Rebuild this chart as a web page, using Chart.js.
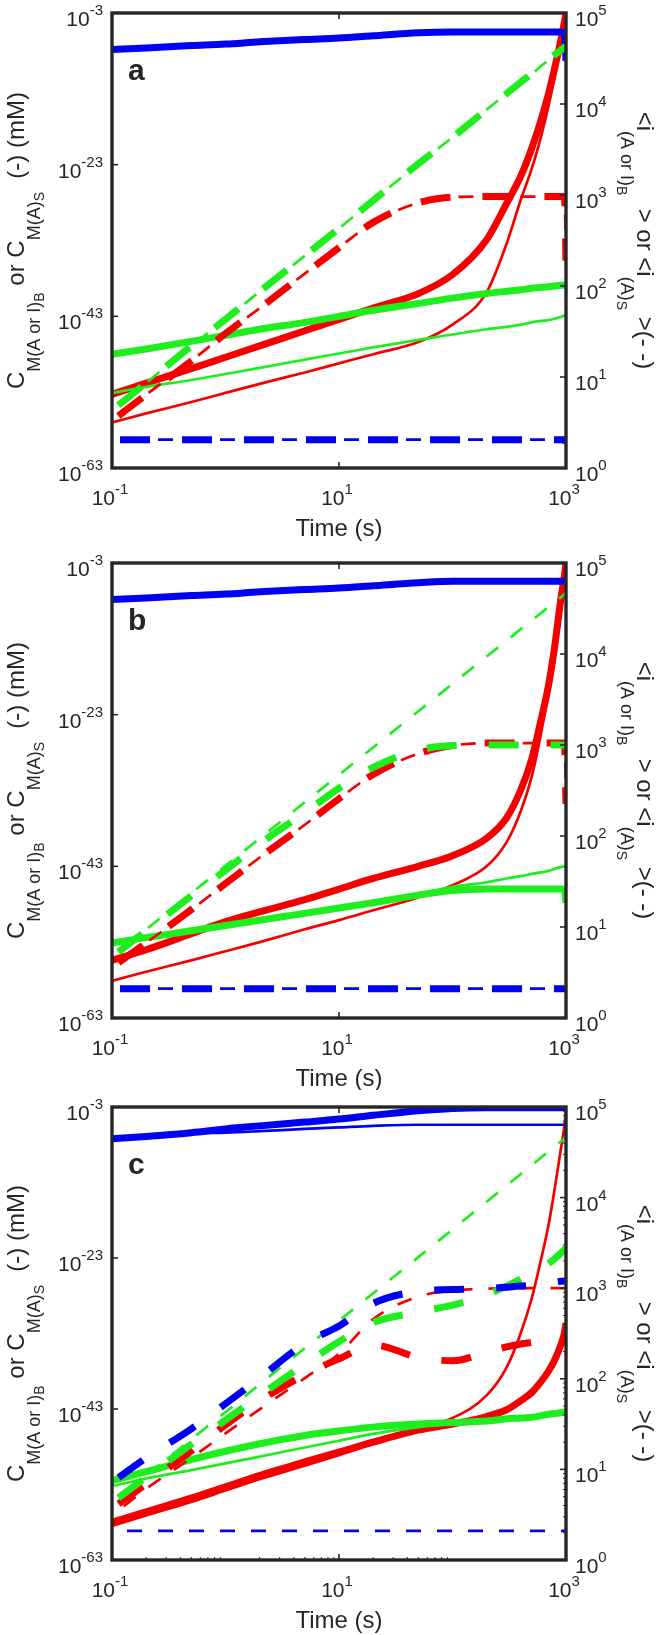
<!DOCTYPE html>
<html lang="es">
<head>
<meta charset="utf-8">
<title>Concentraciones y tamaño medio</title>
<script src="https://cdn.jsdelivr.net/npm/chart.js@4/dist/chart.umd.min.js"></script>
<style>
  html, body { margin: 0; padding: 0; background: #fff; }
  body { position: relative; width: 657px; height: 1635px; overflow: hidden; }
  .panel { position: absolute; left: 0; width: 657px; height: 545px; }
  canvas { display: block; width: 657px; height: 545px; }
</style>
</head>
<body>
<div class="panel" style="top:0px"><canvas id="grafica-a" width="657" height="545"></canvas></div>
<div class="panel" style="top:545px"><canvas id="grafica-b" width="657" height="545"></canvas></div>
<div class="panel" style="top:1090px"><canvas id="grafica-c" width="657" height="545"></canvas></div>
<script>
// ── Eje de tiempo compartido (s) ──────────────────────────────
const TIEMPO = [0.1, 0.2, 0.5, 1, 2, 5, 10, 20, 50, 100, 200, 300, 400, 500, 600, 700, 800, 900, 970, 1000];

// Marcas de los ejes
const TICKS_TIEMPO = [0.1, 10, 1000];
const TICKS_CONC   = [1e-63, 1e-43, 1e-23, 1e-3];
const TICKS_TAMANO = [1, 10, 100, 1000, 1e4, 1e5];

// ── Panel a ───────────────────────────────────────────────────
// Concentraciones: exponente base 10 (mM), eje izquierdo
const aAzulSolGrueso  = [-7.8, -7.6, -7.3, -7.1, -6.8, -6.5, -6.3, -6.0, -5.6, -5.5, -5.5, -5.5, -5.5, -5.5, -5.5, -5.5, -5.5, -5.5, -5.6, -9.3];
const aVerdeSolGrueso = [-48.0, -47.3, -46.3, -45.5, -44.7, -43.8, -43.0, -42.2, -41.3, -40.6, -40.0, -39.7, -39.5, -39.3, -39.2, -39.1, -39.0, -38.9, -38.9, -38.9];
const aVerdeSolFino   = [-53.1, -52.3, -51.4, -50.6, -49.8, -48.7, -47.9, -47.1, -46.1, -45.4, -44.7, -44.4, -44.1, -43.8, -43.6, -43.5, -43.3, -43.1, -42.9, -42.8];
const aRojoSolGrueso  = [-53.3, -51.8, -49.9, -48.4, -46.9, -44.9, -43.4, -41.9, -40.0, -37.5, -32.9, -28.1, -24.5, -20.8, -17.2, -13.7, -10.1, -6.6, -4.1, -3.0];
const aRojoSolFino    = [-57.0, -55.8, -54.3, -53.1, -51.9, -50.4, -49.2, -48.0, -46.4, -44.1, -39.8, -33.4, -27.6, -23.5, -19.4, -15.3, -11.2, -7.1, -4.2, -3.0];
// Tamaño medio <i>, eje derecho
const aAzulDisc  = [2.05, 2.05, 2.05, 2.05, 2.05, 2.05, 2.05, 2.05, 2.05, 2.05, 2.05, 2.05, 2.05, 2.05, 2.05, 2.05, 2.05, 2.05, 2.05, 1.9];
const aVerdeDisc = [4.3, 8.6, 22, 43, 87, 215, 430, 870, 2200, 4300, 8700, 13000, 17500, 21500, 26000, 30500, 35000, 39000, 42000, 44000];
const aRojoDisc  = [3.3, 6.4, 15, 30, 57, 137, 264, 500, 820, 945, 960, 960, 960, 960, 960, 960, 960, 960, 960, 190];

// ── Panel b ───────────────────────────────────────────────────
const bAzulSolGrueso  = [-7.8, -7.6, -7.3, -7.1, -6.8, -6.5, -6.3, -6.0, -5.6, -5.4, -5.4, -5.4, -5.4, -5.4, -5.4, -5.4, -5.4, -5.4, -5.4, -5.5];
const bVerdeSolGrueso = [-53.1, -52.4, -51.5, -50.8, -50.1, -49.2, -48.5, -47.8, -46.8, -46.2, -46.0, -46.0, -46.0, -46.0, -46.0, -46.0, -46.0, -46.0, -46.1, -47.8];
const bVerdeSolFino   = [-53.1, -52.4, -51.5, -50.8, -50.1, -49.2, -48.5, -47.8, -46.7, -45.7, -45.1, -44.6, -44.3, -44.0, -43.8, -43.6, -43.3, -43.1, -43.0, -42.9];
const bRojoSolGrueso  = [-55.4, -54.0, -51.9, -50.3, -49.0, -47.4, -46.0, -44.6, -43.0, -41.6, -39.3, -36.6, -32.9, -28.8, -23.8, -19.2, -13.7, -7.8, -4.6, -3.0];
const bRojoSolFino    = [-58.1, -56.9, -55.4, -54.2, -53.0, -51.3, -50.1, -48.8, -47.1, -45.5, -43.0, -39.8, -35.7, -31.1, -25.6, -20.1, -14.6, -8.7, -5.0, -3.0];
const bAzulDisc        = [2.1, 2.1, 2.1, 2.1, 2.1, 2.1, 2.1, 2.1, 2.1, 2.1, 2.1, 2.1, 2.1, 2.1, 2.1, 2.1, 2.1, 2.1, 2.1, 2.1];
const bRojoDisc        = [3.6, 6.7, 15.5, 30, 58, 133, 257, 475, 805, 985, 1050, 1050, 1050, 1050, 1050, 1050, 1050, 1050, 1050, 225];
const bVerdeDiscGrueso = [4.7, 9.1, 22, 42, 82, 181, 335, 567, 880, 985, 1000, 1000, 1000, 1000, 1000, 1000, 1000, 1000, 1000, 1000];
const bVerdeDiscFino   = [4.7, 9.4, 23.5, 47, 94, 235, 470, 940, 2350, 4700, 9400, 14000, 18800, 23500, 28000, 33000, 37500, 42000, 45500, 47000];

// ── Panel c ───────────────────────────────────────────────────
const cAzulSolGrueso  = [-7.2, -6.9, -6.4, -5.9, -5.5, -5.0, -4.6, -4.1, -3.5, -3.2, -3.1, -3.1, -3.1, -3.1, -3.1, -3.1, -3.1, -3.1, -3.1, -3.1];
const cAzulSolFino    = [-7.0, -6.8, -6.5, -6.4, -6.2, -5.9, -5.7, -5.5, -5.35, -5.35, -5.35, -5.35, -5.35, -5.35, -5.35, -5.35, -5.35, -5.35, -5.35, -5.35];
const cVerdeSolGrueso = [-52.5, -51.3, -49.7, -48.6, -47.6, -46.5, -45.9, -45.4, -45.0, -44.8, -44.6, -44.3, -44.2, -44.1, -43.9, -43.7, -43.6, -43.5, -43.4, -43.3];
const cVerdeSolFino   = [-53.2, -52.2, -51.1, -50.2, -49.3, -48.1, -47.2, -46.3, -45.4, -44.9, -44.7, -44.3, -44.2, -44.1, -43.9, -43.7, -43.6, -43.5, -43.4, -43.3];
const cRojoSolGrueso  = [-58.2, -56.8, -55.0, -53.5, -52.0, -50.2, -48.8, -47.4, -45.8, -45.0, -44.0, -43.1, -41.9, -40.8, -39.4, -38.0, -36.4, -34.5, -32.9, -31.6];
const cRojoSolFino    = [-57.7, -56.3, -54.5, -53.0, -51.5, -49.7, -48.4, -47.1, -45.6, -44.2, -41.2, -37.5, -32.9, -28.3, -23.3, -18.7, -13.6, -8.6, -5.4, -3.5];
const cAzulDiscFino    = [2.1, 2.1, 2.1, 2.1, 2.1, 2.1, 2.1, 2.1, 2.1, 2.1, 2.1, 2.1, 2.1, 2.1, 2.1, 2.1, 2.1, 2.1, 2.1, 2.1];
const cAzulDiscGrueso  = [7.2, 13.4, 28, 53, 102, 246, 383, 680, 925, 967, 991, 1027, 1055, 1083, 1122, 1151, 1172, 1193, 1200, 1205];
const cRojoDiscFino    = [3.1, 6.1, 13.4, 25, 46, 102, 189, 456, 809, 940, 990, 995, 1000, 1000, 1000, 1000, 1000, 1000, 1000, 1000];
const cRojoDiscGrueso  = [3.7, 6.9, 16, 31, 57, 111, 166, 236, 173, 158, 197, 225, 242, 253, 262, 269, 274, 279, 280, 281];
const cVerdeDiscFino   = [4.3, 8.6, 21.5, 43, 87, 218, 437, 880, 2200, 4450, 9000, 13600, 18200, 22800, 27500, 32200, 36900, 41700, 45200, 48000];
const cVerdeDiscGrueso = [4.3, 8.2, 19, 35, 65, 145, 257, 418, 545, 649, 846, 1054, 1259, 1436, 1640, 1872, 2137, 2440, 2650, 2786];

// ── Estilos ───────────────────────────────────────────────────
const AZUL  = 'rgb(0,0,245)';
const ROJO  = 'rgb(245,0,0)';
const VERDE = 'rgb(30,238,30)';
const GRUESO = 7;
const FINO   = 2.7;
const TINTA  = '#262626';
const FUENTE = '"Liberation Sans", Arial, Helvetica, sans-serif';

// Serie de concentración (exponente → mM) sobre el eje izquierdo
function conc(exps, color, grosor) {
    return {
        data: TIEMPO.map((t, i) => ({ x: t, y: Math.pow(10, exps[i]) })),
        yAxisID: 'yC',
        borderColor: color,
        borderWidth: grosor,
        borderDash: [],
        pointRadius: 0,
        cubicInterpolationMode: 'monotone',
        borderJoinStyle: 'round',
        fill: false,
        clip: 0,
    };
}

// Serie de tamaño medio (discontinua) sobre el eje derecho
function tamano(valores, color, grosor) {
    const grueso = grosor === GRUESO;
    return {
        data: TIEMPO.map((t, i) => ({ x: t, y: valores[i] })),
        yAxisID: 'yI',
        borderColor: color,
        borderWidth: grosor,
        borderDash: grueso ? [30, 32] : [15, 16],
        borderDashOffset: grueso ? 54 : 16,
        pointRadius: 0,
        cubicInterpolationMode: 'monotone',
        borderJoinStyle: 'round',
        fill: false,
        clip: 0,
    };
}

// ── Dibujo de ejes estilo MATLAB ──────────────────────────────
function linea(ctx, x1, y1, x2, y2) {
    ctx.beginPath();
    ctx.moveTo(x1, y1);
    ctx.lineTo(x2, y2);
    ctx.stroke();
}

function potencia(ctx, exp, x, yBase, alinear) {
    ctx.font = `21px ${FUENTE}`;
    const wBase = ctx.measureText('10').width;
    ctx.font = `15px ${FUENTE}`;
    const wExp = ctx.measureText(exp).width;
    const total = wBase + wExp;
    const x0 = alinear === 'right' ? x - total : alinear === 'center' ? x - total / 2 : x;
    ctx.font = `21px ${FUENTE}`;
    ctx.fillText('10', x0, yBase);
    ctx.font = `15px ${FUENTE}`;
    ctx.fillText(exp, x0 + wBase, yBase - 11);
}

function textoCompuesto(ctx, partes, cx, cy, angulo) {
    ctx.save();
    ctx.translate(cx, cy);
    ctx.rotate(angulo);
    let total = 0;
    partes.forEach(p => { ctx.font = `${p.t}px ${FUENTE}`; total += ctx.measureText(p.s).width; });
    let x = -total / 2;
    partes.forEach(p => {
        ctx.font = `${p.t}px ${FUENTE}`;
        ctx.fillText(p.s, x, p.dy);
        x += ctx.measureText(p.s).width;
    });
    ctx.restore();
}

const TITULO_IZQ = [
    { s: 'C', t: 24, dy: 0 }, { s: 'M(A or I)', t: 18, dy: 16 }, { s: 'B', t: 14, dy: 20 },
    { s: ' or C', t: 24, dy: 0 }, { s: 'M(A)', t: 18, dy: 16 }, { s: 'S', t: 14, dy: 20 },
    { s: '  (-) (mM)', t: 24, dy: 0 },
];
const TITULO_DER = [
    { s: '<i', t: 24, dy: 0 }, { s: '(A or I)', t: 18, dy: 16 }, { s: 'B', t: 14, dy: 20 },
    { s: '  > or <i', t: 24, dy: 0 }, { s: '(A)', t: 18, dy: 16 }, { s: 'S', t: 14, dy: 20 },
    { s: ' >(- -)', t: 24, dy: 0 },
];

const ejesMatlab = {
    id: 'ejesMatlab',
    afterDatasetsDraw(chart, args, opts) {
        const { ctx, chartArea: { left, right, top, bottom } } = chart;
        const sx = chart.scales.x, sC = chart.scales.yC, sI = chart.scales.yI;
        ctx.save();
        ctx.strokeStyle = TINTA;
        ctx.fillStyle = TINTA;

        // Marcas menores (solo panel c)
        if (opts.menores) {
            ctx.lineWidth = 1;
            [1, 10, 100].forEach(d => [2, 3, 4, 5, 6, 7, 8, 9].forEach(m => {
                const px = sx.getPixelForValue(m * d / 10);
                linea(ctx, px, bottom, px, bottom - 3);
            }));
            [1, 10, 100, 1000, 10000].forEach(d => [2, 3, 4, 5, 6, 7, 8, 9].forEach(m => {
                const py = sI.getPixelForValue(m * d);
                linea(ctx, right, py, right - 3, py);
            }));
        }

        // Marcas mayores
        ctx.lineWidth = 1.6;
        TICKS_TIEMPO.forEach(v => {
            const px = sx.getPixelForValue(v);
            linea(ctx, px, bottom, px, bottom - 6);
            linea(ctx, px, top, px, top + 6);
        });
        TICKS_CONC.forEach(v => {
            const py = sC.getPixelForValue(v);
            linea(ctx, left, py, left + 6, py);
        });
        TICKS_TAMANO.forEach(v => {
            const py = sI.getPixelForValue(v);
            linea(ctx, right, py, right - 6, py);
        });

        // Marco
        ctx.lineWidth = 3.4;
        ctx.strokeRect(left, top, right - left, bottom - top);

        // Etiquetas de las marcas
        ctx.textAlign = 'left';
        ctx.textBaseline = 'alphabetic';
        TICKS_TIEMPO.forEach(v => {
            potencia(ctx, String(Math.round(Math.log10(v))), sx.getPixelForValue(v) - 2, bottom + 37, 'center');
        });
        TICKS_CONC.forEach(v => {
            potencia(ctx, String(Math.round(Math.log10(v))), left - 9, sC.getPixelForValue(v) + 13, 'right');
        });
        TICKS_TAMANO.forEach(v => {
            potencia(ctx, String(Math.round(Math.log10(v))), right + 9, sI.getPixelForValue(v) + 13, 'left');
        });

        // Títulos
        ctx.font = `24px ${FUENTE}`;
        ctx.textAlign = 'center';
        ctx.fillText('Time (s)', (left + right) / 2, bottom + 68);
        ctx.textAlign = 'left';
        const medio = (top + bottom) / 2;
        textoCompuesto(ctx, TITULO_IZQ, 24, medio, -Math.PI / 2);
        textoCompuesto(ctx, TITULO_DER, 637, medio, Math.PI / 2);

        // Letra del panel
        ctx.font = `bold 30px ${FUENTE}`;
        ctx.fillText(opts.letra, left + 16, top + 67);
        ctx.restore();
    }
};

// ── Crear panel ───────────────────────────────────────────────
function crearPanel(id, letra, series, margenSup, margenInf, menores) {
    return new Chart(document.getElementById(id), {
        type: 'line',
        data: { datasets: series },
        options: {
            responsive: false,
            animation: false,
            devicePixelRatio: 1,
            layout: { padding: { left: 112, right: 91, top: margenSup, bottom: margenInf } },
            plugins: {
                legend: { display: false },
                tooltip: { enabled: false },
                ejesMatlab: { letra, menores },
            },
            scales: {
                x:  { type: 'logarithmic', min: 0.1, max: 1000, display: false,
                      afterBuildTicks: s => { s.ticks = TICKS_TIEMPO.map(v => ({ value: v })); } },
                yC: { type: 'logarithmic', position: 'left', min: 1e-63, max: 1e-3, display: false,
                      afterBuildTicks: s => { s.ticks = TICKS_CONC.map(v => ({ value: v })); } },
                yI: { type: 'logarithmic', position: 'right', min: 1, max: 1e5, display: false,
                      afterBuildTicks: s => { s.ticks = TICKS_TAMANO.map(v => ({ value: v })); } },
            },
        },
        plugins: [ejesMatlab],
    });
}

// El primer conjunto queda dibujado encima
crearPanel('grafica-a', 'a', [
    tamano(aAzulDisc, AZUL, FINO),
    tamano(aAzulDisc, AZUL, GRUESO),
    tamano(aVerdeDisc, VERDE, FINO),
    tamano(aVerdeDisc, VERDE, GRUESO),
    tamano(aRojoDisc, ROJO, FINO),
    tamano(aRojoDisc, ROJO, GRUESO),
    conc(aAzulSolGrueso, AZUL, GRUESO),
    conc(aVerdeSolFino, VERDE, FINO),
    conc(aVerdeSolGrueso, VERDE, GRUESO),
    conc(aRojoSolFino, ROJO, FINO),
    conc(aRojoSolGrueso, ROJO, GRUESO),
], 13, 77, false);

crearPanel('grafica-b', 'b', [
    tamano(bAzulDisc, AZUL, FINO),
    tamano(bAzulDisc, AZUL, GRUESO),
    tamano(bVerdeDiscFino, VERDE, FINO),
    tamano(bVerdeDiscGrueso, VERDE, GRUESO),
    tamano(bRojoDisc, ROJO, FINO),
    tamano(bRojoDisc, ROJO, GRUESO),
    conc(bAzulSolGrueso, AZUL, GRUESO),
    conc(bVerdeSolFino, VERDE, FINO),
    conc(bVerdeSolGrueso, VERDE, GRUESO),
    conc(bRojoSolFino, ROJO, FINO),
    conc(bRojoSolGrueso, ROJO, GRUESO),
], 18, 72, false);

crearPanel('grafica-c', 'c', [
    tamano(cAzulDiscFino, AZUL, FINO),
    tamano(cAzulDiscGrueso, AZUL, GRUESO),
    tamano(cVerdeDiscFino, VERDE, FINO),
    tamano(cVerdeDiscGrueso, VERDE, GRUESO),
    tamano(cRojoDiscFino, ROJO, FINO),
    tamano(cRojoDiscGrueso, ROJO, GRUESO),
    conc(cAzulSolFino, AZUL, FINO),
    conc(cAzulSolGrueso, AZUL, GRUESO),
    conc(cVerdeSolFino, VERDE, FINO),
    conc(cVerdeSolGrueso, VERDE, GRUESO),
    conc(cRojoSolFino, ROJO, FINO),
    conc(cRojoSolGrueso, ROJO, GRUESO),
], 17, 75, true);
</script>
</body>
</html>
